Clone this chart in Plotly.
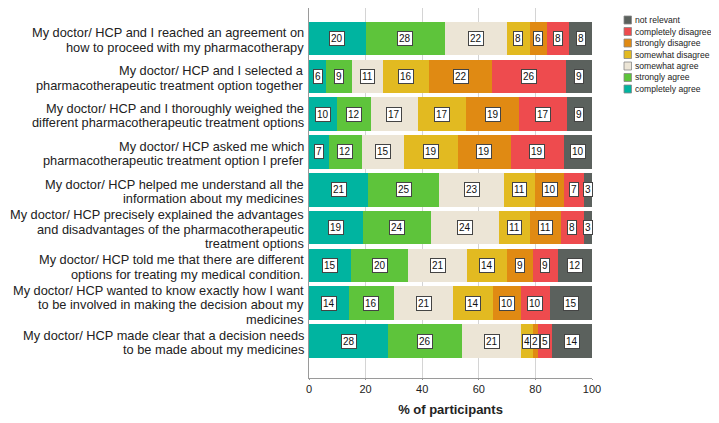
import plotly.graph_objects as go

categories = [
    "My doctor/ HCP and I reached an agreement on<br>how to proceed with my pharmacotherapy",
    "My doctor/ HCP and I selected a<br>pharmacotherapeutic treatment option together",
    "My doctor/ HCP and I thoroughly weighed the<br>different pharmacotherapeutic treatment options",
    "My doctor/ HCP asked me which<br>pharmacotherapeutic treatment option I prefer",
    "My doctor/ HCP helped me understand all the<br>information about my medicines",
    "My doctor/ HCP precisely explained the advantages<br>and disadvantages of the pharmacotherapeutic<br>treatment options",
    "My doctor/ HCP told me that there are different<br>options for treating my medical condition.",
    "My doctor/ HCP wanted to know exactly how I want<br>to be involved in making the decision about my<br>medicines",
    "My doctor/ HCP made clear that a decision needs<br>to be made about my medicines",
]

completely_agree = [20, 6, 10, 7, 21, 19, 15, 14, 28]
strongly_agree = [28, 9, 12, 12, 25, 24, 20, 16, 26]
somewhat_agree = [22, 11, 17, 15, 23, 24, 21, 21, 21]
somewhat_disagree = [8, 16, 17, 19, 11, 11, 14, 14, 4]
strongly_disagree = [6, 22, 19, 19, 10, 11, 9, 10, 2]
completely_disagree = [8, 26, 17, 19, 7, 8, 9, 10, 5]
not_relevant = [8, 9, 9, 10, 3, 3, 12, 15, 14]

series_names = ["completely agree", "strongly agree", "somewhat agree",
                "somewhat disagree", "strongly disagree", "completely disagree",
                "not relevant"]
series_values = [completely_agree, strongly_agree, somewhat_agree,
                 somewhat_disagree, strongly_disagree, completely_disagree,
                 not_relevant]
colors = ["#00B4A0", "#5EC43B", "#ECE5D6", "#E2BA21", "#E08A13", "#EE4B4E", "#5B615D"]

x_ticks = [0, 20, 40, 60, 80, 100]

FONT = "Liberation Sans, Arial, sans-serif"

# the page adds an 8px body margin; figure size compensates
OFF = 8
W, H = 711, 415
L, R = 309 - OFF, 592 - OFF      # plot area in figure px
T, B = 0, 378 - OFF

# labels are rounded percentages; bars are scaled so each row spans 100 %
row_sums = [sum(vals[i] for vals in series_values) for i in range(len(categories))]
widths = [[vals[i] * 100.0 / row_sums[i] for i in range(len(categories))] for vals in series_values]

fig = go.Figure()
for name, vals, w, col in zip(series_names, series_values, widths, colors):
    fig.add_trace(go.Bar(
        x=w, y=categories, orientation="h", name=name,
        customdata=vals, hovertemplate="%{customdata}<extra>" + name + "</extra>",
        marker=dict(color=col, line=dict(width=0)),
        showlegend=False,
    ))

# value labels in white boxes at the center of each segment
annotations = []
for ci, cat in enumerate(categories):
    cum = 0
    for vals, w in zip(series_values, widths):
        annotations.append(dict(
            x=cum + w[ci] / 2, y=cat, xref="x", yref="y", text=str(vals[ci]),
            showarrow=False, font=dict(family=FONT, size=10, color="#111111"),
            bgcolor="white", bordercolor="#444444", borderwidth=1, borderpad=1,
        ))
        cum += w[ci]

# category labels, one text per line for tighter line spacing
LINE = 14.5
for cat in categories:
    lines = cat.split("<br>")
    n = len(lines)
    for k, line in enumerate(lines):
        annotations.append(dict(
            x=0, y=cat, xref="paper", yref="y", text=line, showarrow=False,
            xanchor="right", yanchor="middle", xshift=-3,
            yshift=((n - 1) / 2 - k) * LINE - 1.5,
            font=dict(family=FONT, size=12.8, color="#222222"),
        ))

# compact legend (top to bottom: reversed series order), page pixel positions
def px_x(p):
    return (p - OFF - L) / (R - L)
def px_y(p):
    return (B - (p - OFF)) / (B - T)

shapes = []
leg_names = list(reversed(series_names))
leg_cols = list(reversed(colors))
for i, (n, c) in enumerate(zip(leg_names, leg_cols)):
    yc = 20 + i * 11.5
    shapes.append(dict(type="rect", xref="paper", yref="paper",
                       x0=px_x(624), x1=px_x(631.5), y0=px_y(yc + 4), y1=px_y(yc - 4),
                       fillcolor=c, line=dict(color="#888888", width=0.8)))
    annotations.append(dict(x=px_x(632.5), y=px_y(yc), xref="paper", yref="paper",
                            text=n, showarrow=False, xanchor="left", yanchor="middle",
                            font=dict(family=FONT, size=8.6, color="#222222")))

fig.update_layout(
    barmode="stack",
    bargap=0.11,
    width=W, height=H,
    margin=dict(l=L, r=W - R, t=T, b=H - B, pad=0, autoexpand=False),
    paper_bgcolor="white", plot_bgcolor="white",
    font=dict(family=FONT, size=13, color="#222222"),
    annotations=annotations,
    shapes=shapes,
    xaxis=dict(
        range=[0, 100], tickvals=x_ticks, ticktext=[str(t) for t in x_ticks],
        showgrid=True, gridcolor="#D4D4D4", gridwidth=1,
        showline=True, linecolor="#9A9A9A", linewidth=1,
        zeroline=False, ticks="outside", ticklen=1, tickcolor="#9A9A9A",
        tickfont=dict(family=FONT, size=11, color="#222222"),
        title=dict(text="<b>% of participants</b>", font=dict(family=FONT, size=13, color="#222222"),
                   standoff=10),
        automargin=False,
        fixedrange=True,
    ),
    yaxis=dict(
        categoryorder="array", categoryarray=categories,
        range=[8.976, -0.807],
        showline=True, linecolor="#9A9A9A", linewidth=1,
        showgrid=False, ticks="", ticklen=0, showticklabels=False,
        automargin=False,
        fixedrange=True,
    ),
)

fig.write_html("out.html")
